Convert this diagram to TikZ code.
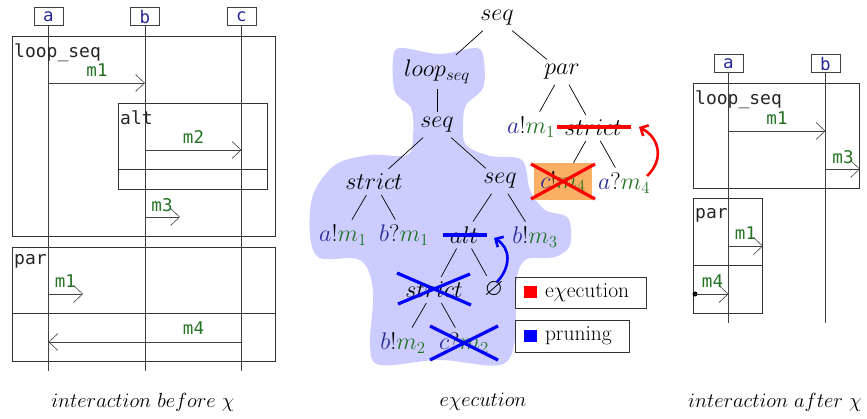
\RequirePackage{fix-cm}
\documentclass[tikz,border=0pt]{standalone}
\usepackage{amssymb}
\usepackage{fontspec}
\newfontfamily\monof{DejaVu Sans Mono}
\usetikzlibrary{arrows.meta}
\definecolor{lname}{RGB}{40,40,150}
\definecolor{msgc}{RGB}{35,115,35}
\definecolor{blobc}{RGB}{204,204,255}
\definecolor{orangec}{RGB}{250,175,100}
\newcommand\LN[1]{\textcolor{lname}{#1}}
\newcommand\MG[1]{\textcolor{msgc}{#1}}
\tikzset{
 lifebox/.style={draw=black!75, line width=0.9pt, minimum width=29pt, minimum height=18pt, inner sep=0pt, font=\monof\fontsize{17.5}{18}\selectfont, text=lname},
 lifeline/.style={draw=black!75, line width=0.9pt},
 seqframe/.style={draw=black!80, line width=0.9pt},
 framelbl/.style={anchor=base west, inner sep=0pt, font=\monof\fontsize{18}{20}\selectfont, text=black!85},
 msglbl/.style={anchor=base, inner sep=0pt, font=\monof\fontsize{17.5}{20}\selectfont, text=msgc},
 msgarrow/.style={draw=black!75, line width=0.8pt, -{Straight Barb[length=9pt,width=17pt,line width=0.6pt]}},
 tnode/.style={inner xsep=2pt, inner ysep=5pt, font=\fontsize{24}{28}\selectfont},
 tedge/.style={draw=black, line width=0.7pt},
 redmark/.style={draw=red, line width=3.2pt},
 bluemark/.style={draw=blue, line width=3.2pt},
 redarrow/.style={draw=red, line width=2.6pt, -{Straight Barb[length=6pt,width=12pt]}},
 bluearrow/.style={draw=blue, line width=2.6pt, -{Straight Barb[length=6pt,width=12pt]}},
 legbox/.style={draw=black!80, line width=0.9pt, inner sep=0pt, font=\fontsize{21.5}{24}\selectfont},
 capt/.style={inner sep=0pt, font=\fontsize{20.5}{24}\selectfont},
}
\begin{document}
\begin{tikzpicture}[x=1pt,y=-1pt]
\useasboundingbox (0,0) rectangle (867,418);

%% ---------------- left: interaction before
\draw[seqframe] (12,36) rectangle (275,236);
\draw[seqframe] (118,103) rectangle (267,189);
\draw[seqframe] (118,169) -- (267,169);
\draw[seqframe] (12,247) rectangle (275,361);
\draw[seqframe] (12,313) -- (275,313);
\node[lifebox] (La) at (48.5,16.5) {a};
\node[lifebox] (Lb) at (145,16.5) {b};
\node[lifebox] (Lc) at (241.5,16.5) {c};
\coordinate (La-e) at (48.5,371);
\coordinate (Lb-e) at (145,371);
\coordinate (Lc-e) at (241.5,371);
\draw[lifeline] (La) -- (La-e);
\draw[lifeline] (Lb) -- (Lb-e);
\draw[lifeline] (Lc) -- (Lc-e);
\node[framelbl] (fl1) at (14,57) {loop\_seq};
\node[framelbl] (fl2) at (120,124) {alt};
\node[framelbl] (fl3) at (14,264) {par};
\coordinate (l1a) at (48.5,83);  \coordinate (l1b) at (145,83);
\coordinate (l2a) at (145,150);  \coordinate (l2b) at (241.5,150);
\coordinate (l3a) at (145,217);  \coordinate (l3b) at (180,217);
\coordinate (l4a) at (48.5,294); \coordinate (l4b) at (83,294);
\coordinate (l5a) at (241.5,342); \coordinate (l5b) at (48.5,342);
\draw[msgarrow] (l1a) -- (l1b);
\draw[msgarrow] (l2a) -- (l2b);
\draw[msgarrow] (l3a) -- (l3b);
\draw[msgarrow] (l4a) -- (l4b);
\draw[msgarrow] (l5a) -- (l5b);
\node[msglbl] (lm1) at (97,76) {m1};
\node[msglbl] (lm2) at (193.5,143) {m2};
\node[msglbl] (lm3) at (162,211) {m3};
\node[msglbl] (lm4) at (65.5,287) {m1};
\node[msglbl] (lm5) at (193.5,334) {m4};
\node[capt] (cap1) at (143,402) {$interaction\ before\ \chi$};

%% ---------------- middle: execution tree
\fill[blobc] plot[smooth cycle, tension=0.55] coordinates {
 (400,48) (440,54) (477,48) (484,62) (483,88) (466,105) (463,125) (466,145)
 (490,156) (522,160) (530,190) (545,210) (568,218) (570,245) (555,257)
 (525,260) (516,285) (515,340) (500,365) (440,360) (380,365) (370,345)
 (373,290) (360,260) (320,258) (310,235) (313,195) (335,165) (370,155)
 (407,155) (413,135) (411,108) (395,92) (393,60)};
\node[tnode] (r0) at (497,18) {$seq$};
\node[tnode] (r1) at (437,72) {$loop_{seq}$};
\node[tnode] (r2) at (562,72) {$par$};
\node[tnode] (r3) at (437,125) {$seq$};
\node[tnode] (r4) at (531,127) {$\LN{a}!\MG{m_1}$};
\node[tnode] (r5) at (593,128) {$strict$};
\node[tnode] (r6) at (374,182) {$strict$};
\node[tnode] (r7) at (500,181) {$seq$};
\node[tnode, fill=orangec, minimum width=58pt, minimum height=37pt, inner sep=0pt] (r8) at (563,181.5) {$\LN{c}!\MG{m_4}$};
\node[tnode] (r9) at (624,183) {$\LN{a}?\MG{m_4}$};
\node[tnode] (r10) at (343,235) {$\LN{a}!\MG{m_1}$};
\node[tnode] (r11) at (404,235) {$\LN{b}?\MG{m_1}$};
\node[tnode] (r12) at (464,235) {$alt$};
\node[tnode] (r13) at (535,237) {$\LN{b}!\MG{m_3}$};
\node[tnode] (r14) at (434,290) {$strict$};
\node[tnode] (r15) at (494,289) {$\varnothing$};
\node[tnode] (r16) at (403,343) {$\LN{b}!\MG{m_2}$};
\node[tnode] (r17) at (464,343) {$\LN{c}?\MG{m_2}$};
\draw[tedge] (r0) -- (r1);
\draw[tedge] (r0) -- (r2);
\draw[tedge] (r1) -- (r3);
\draw[tedge] (r2) -- (r4);
\draw[tedge] (r2) -- (r5);
\draw[tedge] (r3) -- (r6);
\draw[tedge] (r3) -- (r7);
\draw[tedge] (r5) -- (r8);
\draw[tedge] (r5) -- (r9);
\draw[tedge] (r6) -- (r10);
\draw[tedge] (r6) -- (r11);
\draw[tedge] (r7) -- (r12);
\draw[tedge] (r7) -- (r13);
\draw[tedge] (r12) -- (r14);
\draw[tedge] (r12) -- (r15);
\draw[tedge] (r14) -- (r16);
\draw[tedge] (r14) -- (r17);
% execution marks
\draw[redmark] (557,127) -- (631,127);
\draw[redmark] (531,164) -- (595,199);
\draw[redmark] (531,199) -- (595,164);
\coordinate (rs) at (647,176);
\coordinate (re) at (639,127);
\draw[redarrow] (rs) .. controls (664,160) and (660,138) .. (re);
% pruning marks
\draw[bluemark] (443,235) -- (487,235);
\draw[bluemark] (397,273) -- (471,305);
\draw[bluemark] (398,304) -- (470,274);
\draw[bluemark] (430,326) -- (498,360);
\draw[bluemark] (430,360) -- (498,326);
\coordinate (bs) at (497,282);
\coordinate (be) at (494,238);
\draw[bluearrow] (bs) .. controls (511,267) and (511,248) .. (be);
% legend
\node[legbox, minimum width=131pt, minimum height=31pt] (leg1) at (580.5,292.5) {\makebox[113pt][l]{\textcolor{red}{\rule[-1pt]{13pt}{12pt}}\hspace{8pt}e$\chi$ecution}};
\node[legbox, minimum width=114pt, minimum height=32pt] (leg2) at (572,336) {\makebox[96pt][l]{\textcolor{blue}{\rule[-1pt]{13pt}{12pt}}\hspace{8pt}pruning}};
\node[capt] (cap2) at (483,402) {$e\chi ecution$};

%% ---------------- right: interaction after
\draw[seqframe] (693,83) rectangle (859,188);
\draw[seqframe] (693,198) rectangle (762,313);
\draw[seqframe] (693,265) -- (762,265);
\node[lifebox] (Ra) at (728.5,63.5) {a};
\node[lifebox] (Rb) at (825.5,63.5) {b};
\coordinate (Ra-e) at (728.5,323);
\coordinate (Rb-e) at (825.5,323);
\draw[lifeline] (Ra) -- (Ra-e);
\draw[lifeline] (Rb) -- (Rb-e);
\node[framelbl] (fr1) at (695,104) {loop\_seq};
\node[framelbl] (fr2) at (695,218) {par};
\coordinate (q1a) at (728.5,131); \coordinate (q1b) at (825.5,131);
\coordinate (q2a) at (825.5,169); \coordinate (q2b) at (860,169);
\coordinate (q3a) at (728.5,246); \coordinate (q3b) at (763,246);
\coordinate (q4b) at (728.5,294);
\draw[msgarrow] (q1a) -- (q1b);
\draw[msgarrow] (q2a) -- (q2b);
\draw[msgarrow] (q3a) -- (q3b);
\node[circle, fill=black, inner sep=0pt, minimum size=5pt] (q4a) at (695,294) {};
\draw[msgarrow] (q4a.center) -- (q4b);
\node[msglbl] (rm1) at (777,124) {m1};
\node[msglbl] (rm3) at (843,163) {m3};
\node[msglbl] (rm4) at (745.5,239) {m1};
\node[msglbl] (rm5) at (712.5,287) {m4};
\node[capt] (cap3) at (775,402) {$interaction\ after\ \chi$};
\end{tikzpicture}
\end{document}
